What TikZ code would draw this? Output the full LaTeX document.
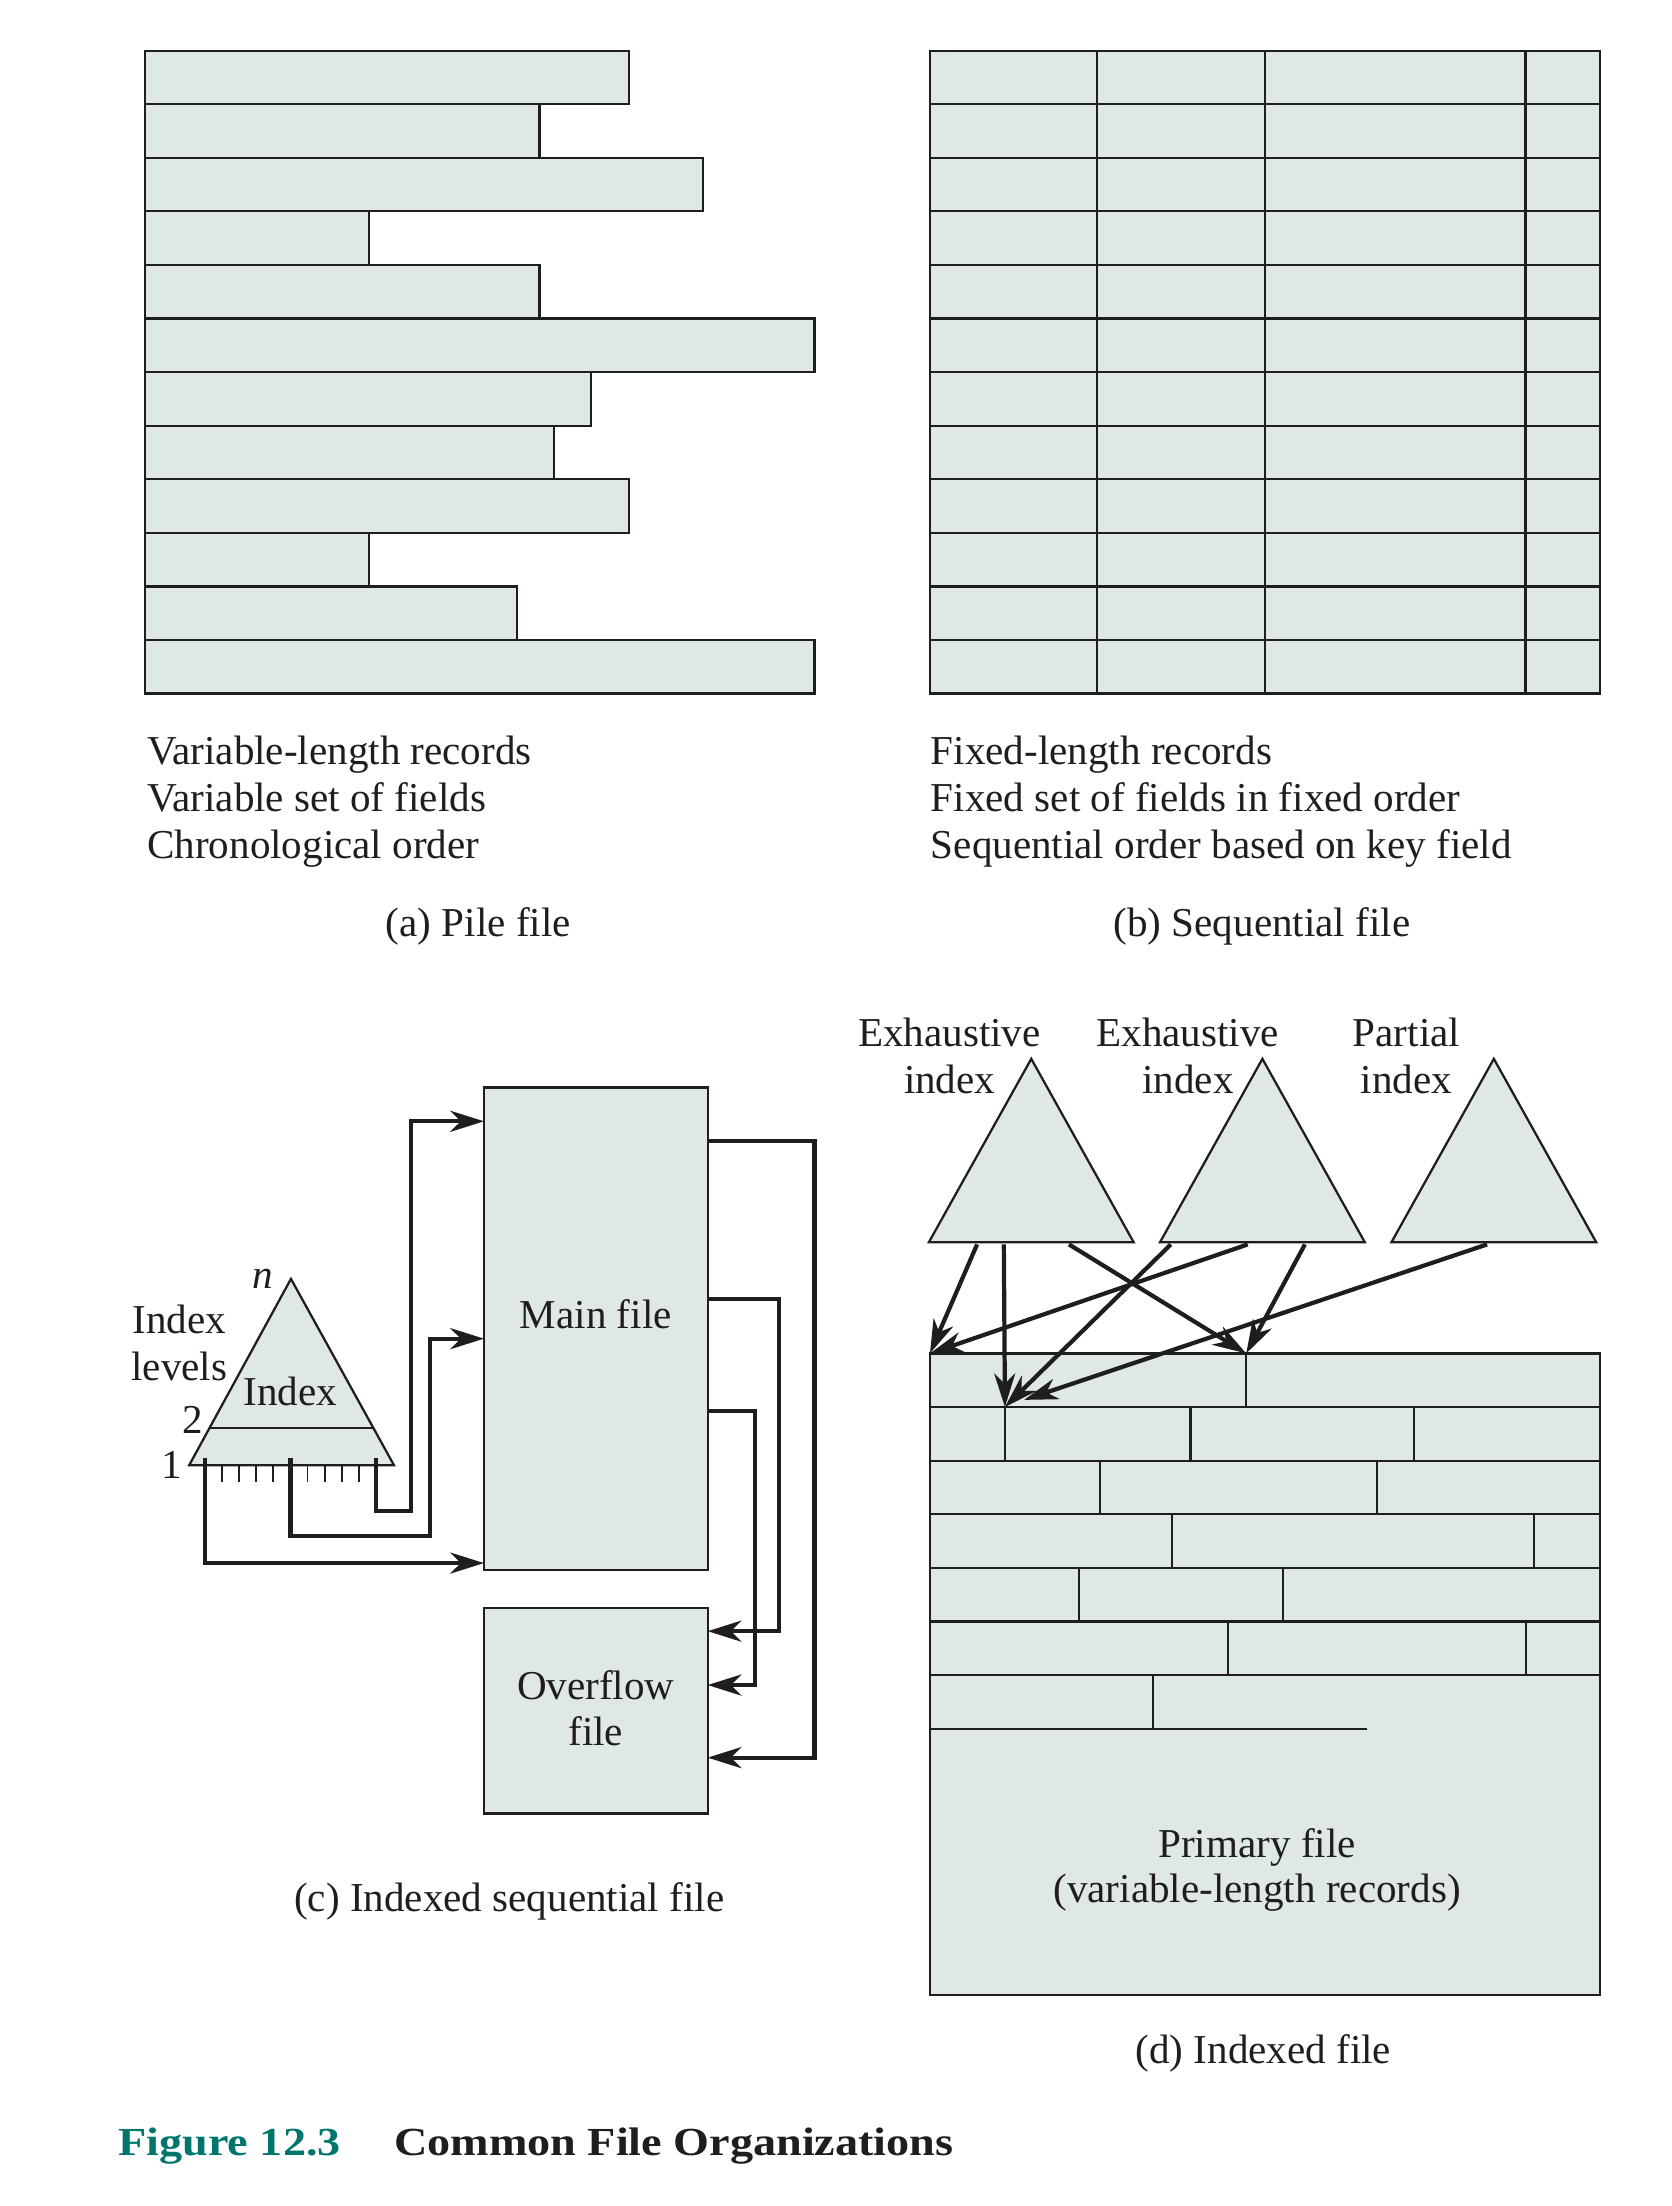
\documentclass[tikz,border=0pt]{standalone}
\usepackage{fontspec}
\setmainfont{Liberation Serif}
\newfontfamily\capfont[FakeStretch=1.16]{Liberation Serif Bold}
\usetikzlibrary{arrows.meta,calc}
\definecolor{FileClr}{RGB}{223,232,228}
\definecolor{LineClr}{RGB}{30,30,30}
\definecolor{FigClr}{RGB}{0,117,107}

\tikzset{
  rec/.style={draw=LineClr,fill=FileClr,line width=1.6pt},
  filebox/.style={rec,inner sep=0pt,outer sep=0pt},
  tri/.style={draw=LineClr,fill=FileClr,line width=1.6pt},
  fld/.style={draw=LineClr,line width=1.5pt},
  tick/.style={draw=LineClr,line width=1.3pt},
  conn/.style={draw=LineClr,line width=3pt,-{Stealth[length=24pt,width=15pt,inset=7.5pt]}},
  txt/.style={font=\fontsize{29.2}{33.5}\selectfont,text=LineClr,inner sep=0pt},
  capt/.style={font=\capfont\fontsize{28.3}{33}\selectfont,inner sep=0pt}
}

\begin{document}
\begin{tikzpicture}[x=1pt,y=-1pt]
\useasboundingbox (0,0) rectangle (1188,1568);

% (a) pile file
\foreach \w [count=\i from 0] in {446.9,383.4,499.8,262.1,383.4,579,420.2,393.9,446.9,262.1,367.3,579}
  \draw[rec] (103,36+38.08*\i) rectangle (\w,74.08+38.08*\i);
\foreach \t [count=\i from 0] in {Variable-length records,Variable set of fields,Chronological order}
  \node[txt,anchor=base west] (pile\i) at (104.5,543.5+33.3*\i) {\t};
\node[txt,anchor=base] (capa) at (340,665.5) {(a) Pile file};

% (b) sequential file
\foreach \i in {0,...,11}
  \draw[rec] (661,36+38.08*\i) rectangle (1137,74.08+38.08*\i);
\foreach \x in {780,899.3,1084.3}
  \draw[fld] (\x,36) -- (\x,493);
\foreach \t [count=\i from 0] in {Fixed-length records,Fixed set of fields in fixed order,Sequential order based on key field}
  \node[txt,anchor=base west] (seq\i) at (661.5,543.5+33.3*\i) {\t};
\node[txt,anchor=base] (capb) at (897,665.5) {(b) Sequential file};

% (c) indexed sequential file
\node[filebox,minimum width=159pt,minimum height=343pt,anchor=north west] (main) at (344,773) {};
\node[txt,anchor=base] (mainlbl) at (423.5,944) {Main file};
\node[filebox,minimum width=159pt,minimum height=146pt,anchor=north west] (ovf) at (344,1143) {};
\node[txt,anchor=base] (ovflbl1) at (423.5,1208) {Overflow};
\node[txt,anchor=base] (ovflbl2) at (423.5,1240.5) {file};

\coordinate (ix) at (206.8,909);
\coordinate (ixl) at (134.5,1041.4);
\coordinate (ixr) at (280,1041.4);
\draw[tri] (ix) -- (ixl) -- (ixr) -- cycle;
\draw[fld] ($(ix)!.8!(ixl)$) -- ($(ix)!.8!(ixr)$);
\foreach \k in {1,2,3,4,6,7,8,9}
  \draw[tick] (145.7+12.15*\k,1041.4) -- ++(0,11.8);

\coordinate (p0) at (145.7,1036);
\coordinate (p5) at (206.45,1036);
\coordinate (p10) at (267.2,1036);
\draw[conn] (p0) |- (main.west |- 0,1111);
\draw[conn] (p5) -- ++(0,55.5) -| (305.5,951.5) -- (main.west |- 0,951.5);
\draw[conn] (p10) -- ++(0,38) -| (292,797) -- (main.west |- 0,797);

\draw[conn] (main.east |- 0,811) -| (579,1249.3) -- (ovf.east |- 0,1249.3);
\draw[conn] (main.east |- 0,923.2) -| (553.7,1159.4) -- (ovf.east |- 0,1159.4);
\draw[conn] (main.east |- 0,1003) -| (536.5,1197.7) -- (ovf.east |- 0,1197.7);

\node[txt,anchor=base] (nlbl) at (187,916) {\itshape n};
\node[txt,anchor=base] (lvl1) at (127.5,948) {Index};
\node[txt,anchor=base] (lvl2) at (127.5,981) {levels};
\node[txt,anchor=base] (ixlbl) at (206.5,999) {Index};
\node[txt,anchor=base] (lv2) at (137,1019) {2};
\node[txt,anchor=base] (lv1) at (122,1051) {1};
\node[txt,anchor=base] (capc) at (362,1359) {(c) Indexed sequential file};

% (d) indexed file
\node[filebox,minimum width=476pt,minimum height=456pt,anchor=north west] (prim) at (661,962) {};
\foreach \k in {1,...,6}
  \draw[fld] (661,962+38.1*\k) -- (1137,962+38.1*\k);
\draw[fld] (661,1228.7) -- (971.4,1228.7);
\foreach \x/\r in {885.8/0,714.3/1,846.2/1,1005/1,781.9/2,978.5/2,833.2/3,1090.6/3,766.8/4,912.2/4,872.7/5,1084.4/5,819.4/6}
  \draw[fld] (\x,962+38.1*\r) -- (\x,1000.1+38.1*\r);
\node[txt,anchor=base] (primlbl1) at (893.5,1320.5) {Primary file};
\node[txt,anchor=base] (primlbl2) at (893.5,1352.5) {(variable-length records)};

\foreach \c/\nm in {733/ex1,897.3/ex2,1061.8/pt} {
  \coordinate (\nm) at (\c,752.6);
  \draw[tri] (\nm) -- ++(-72.8,130.4) -- ++(145.6,0) -- cycle;
}
\node[txt,anchor=base] (ex1lbl1) at (674.8,744) {Exhaustive};
\node[txt,anchor=base] (ex1lbl2) at (675,777) {index};
\node[txt,anchor=base] (ex2lbl1) at (844.2,744) {Exhaustive};
\node[txt,anchor=base] (ex2lbl2) at (844.5,777) {index};
\node[txt,anchor=base] (ptlbl1) at (999.7,744) {Partial};
\node[txt,anchor=base] (ptlbl2) at (999.7,777) {index};

\coordinate (tgt0) at (prim.north west);
\coordinate (tgt1) at (885.8,962);
\coordinate (tgt2) at (714.3,1000.1);
\coordinate (tgt3) at (728,995);
\coordinate (ex1-1) at (694.5,884.5);
\coordinate (ex1-2) at (713.5,884.5);
\coordinate (ex1-3) at (759.8,884.5);
\coordinate (ex2-1) at (832.2,884.5);
\coordinate (ex2-2) at (886.9,884.5);
\coordinate (ex2-3) at (927.5,884.5);
\coordinate (pt-1) at (1057,884.5);
\draw[conn] (ex1-1) -- (tgt0);
\draw[conn] (ex1-2) -- (tgt2);
\draw[conn] (ex1-3) -- (tgt1);
\draw[conn] (ex2-1) -- (tgt2);
\draw[conn] (ex2-2) -- (tgt0);
\draw[conn] (ex2-3) -- (tgt1);
\draw[conn] (pt-1) -- (tgt3);
\node[txt,anchor=base] (capd) at (898,1467) {(d) Indexed file};

% caption
\node[capt,anchor=base west,text=FigClr] (fignum) at (84,1532) {Figure 12.3};
\node[capt,anchor=base west,text=LineClr] (figttl) at (280,1532) {Common File Organizations};

\end{tikzpicture}
\end{document}
